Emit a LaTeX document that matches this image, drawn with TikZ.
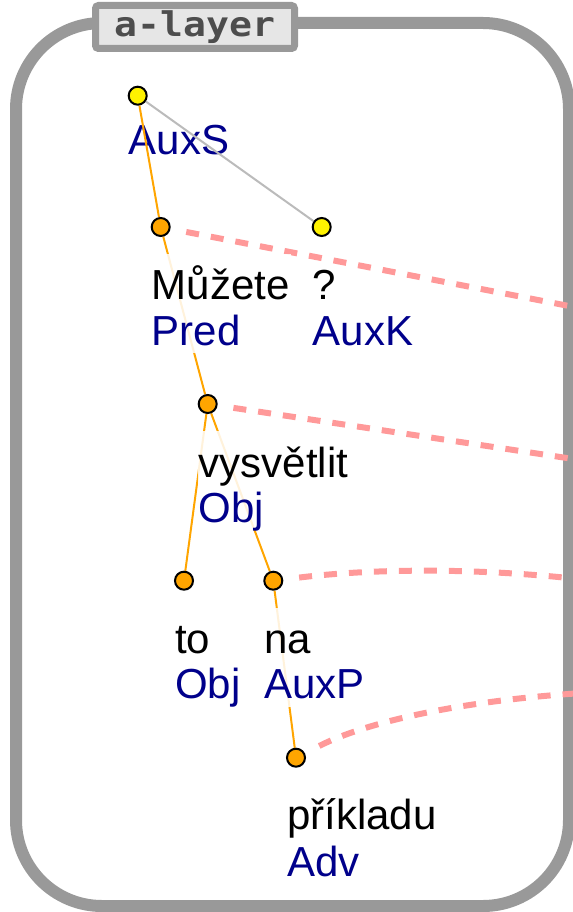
\documentclass[tikz,border=0pt]{standalone}
\usepackage{fontspec}
\setmainfont{Liberation Sans}
\newfontfamily\laymono{DejaVu Sans Mono}
\pgfdeclarelayer{frame}
\pgfdeclarelayer{edges}
\pgfsetlayers{frame,edges,main}
\definecolor{framegray}{HTML}{999999}
\definecolor{tabfill}{HTML}{E6E6E6}
\definecolor{tabtext}{HTML}{4D4D4D}
\definecolor{deprel}{HTML}{00008B}
\definecolor{linkred}{HTML}{FF9999}
\definecolor{treeorange}{HTML}{FFA500}
\definecolor{auxgray}{HTML}{BBBBBB}
\tikzset{
  tnode/.style={circle, draw=black, line width=1.5pt, minimum size=13.5pt, inner sep=0pt},
  rootnode/.style={tnode, fill=yellow},
  anode/.style={tnode, fill=treeorange},
  treeedge/.style={treeorange, line width=1.5pt},
  auxedge/.style={auxgray, line width=1.5pt},
  link/.style={linkred, line width=4.5pt, dash pattern=on 9.75pt off 9pt, shorten <=12pt},
  wordline/.style={anchor=base west, font=\fontsize{31.5pt}{33.75pt}\selectfont,
    inner xsep=0.75pt, inner ysep=0pt, text height=34.5pt, text depth=0pt,
    fill=white, fill opacity=0.86, text opacity=1},
  relline/.style={wordline, text=deprel, text height=33.75pt, text depth=6pt},
}
\begin{document}
\begin{tikzpicture}[x=0.75pt,y=-0.75pt]
\useasboundingbox (0,0) rectangle (572,912);

% tree nodes
\node[rootnode] (a0) at (137.7,95.7) {};
\node[anode] (a1) at (160.7,227) {};
\node[rootnode] (a2) at (321.7,227) {};
\node[anode] (a3) at (207.7,404) {};
\node[anode] (a4) at (184,580.7) {};
\node[anode] (a5) at (273.3,580.7) {};
\node[anode] (a6) at (296,757.7) {};

% labels: afun line first, so the form's descenders stay on top
\node[relline]  (r1) at ([shift={(-10,118)}]a1.center) {Pred};
\node[wordline] (w1) at ([shift={(-10,73)}]a1.center) {Můžete};
\node[relline, fill=none]  (r2) at ([shift={(-10,118)}]a2.center) {AuxK};
\node[wordline, fill=none] (w2) at ([shift={(-10,73)}]a2.center) {?};
\node[relline]  (r3) at ([shift={(-10,118)}]a3.center) {Obj};
\node[wordline] (w3) at ([shift={(-10,73)}]a3.center) {vysvětlit};
\node[relline]  (r4) at ([shift={(-10,118)}]a4.center) {Obj};
\node[wordline] (w4) at ([shift={(-10,73)}]a4.center) {to};
\node[relline]  (r5) at ([shift={(-10,118)}]a5.center) {AuxP};
\node[wordline] (w5) at ([shift={(-10,73)}]a5.center) {na};
\node[relline]  (r6) at ([shift={(-10,119)}]a6.center) {Adv};
\node[wordline] (w6) at ([shift={(-10,72)}]a6.center) {příkladu};

% layer tab
\node[draw=framegray, line width=5.25pt, fill=tabfill, rounded corners=2.25pt,
      minimum width=149.25pt, minimum height=32.25pt, inner sep=0pt,
      font=\laymono\bfseries\fontsize{25.5pt}{25.5pt}\selectfont, text=tabtext]
      (tab) at (195,27) {\raisebox{-1.5pt}{\scalebox{1.12}[1]{a-layer}}};

\begin{pgfonlayer}{frame}
  \draw[framegray, line width=9pt, rounded corners=64.5pt] (16,23) rectangle (569,906);
  \node[relline, fill=none] (r0) at ([shift={(-10,59)}]a0.center) {AuxS};
\end{pgfonlayer}

\begin{pgfonlayer}{edges}
  % links to the tectogrammatical layer
  \coordinate (t1) at (600,312);
  \coordinate (t2) at (600,463);
  \coordinate (t3) at (587,580);
  \coordinate (t4) at (600,692);
  \draw[link] (a1) -- (t1);
  \draw[link] (a3) -- (t2);
  \draw[link] (a5) .. controls (377.7,568) and (482.3,568) .. (t3);
  \draw[link] (a6) .. controls (370,720.3) and (471.3,698.7) .. (t4);
  % dependency edges
  \draw[auxedge] (a0) -- (a2);
  \draw[treeedge] (a0) -- (a1);
  \draw[treeedge] (a1) -- (a3);
  \draw[treeedge] (a3) -- (a4);
  \draw[treeedge] (a3) -- (a5);
  \draw[treeedge] (a5) -- (a6);
\end{pgfonlayer}
\end{tikzpicture}
\end{document}
